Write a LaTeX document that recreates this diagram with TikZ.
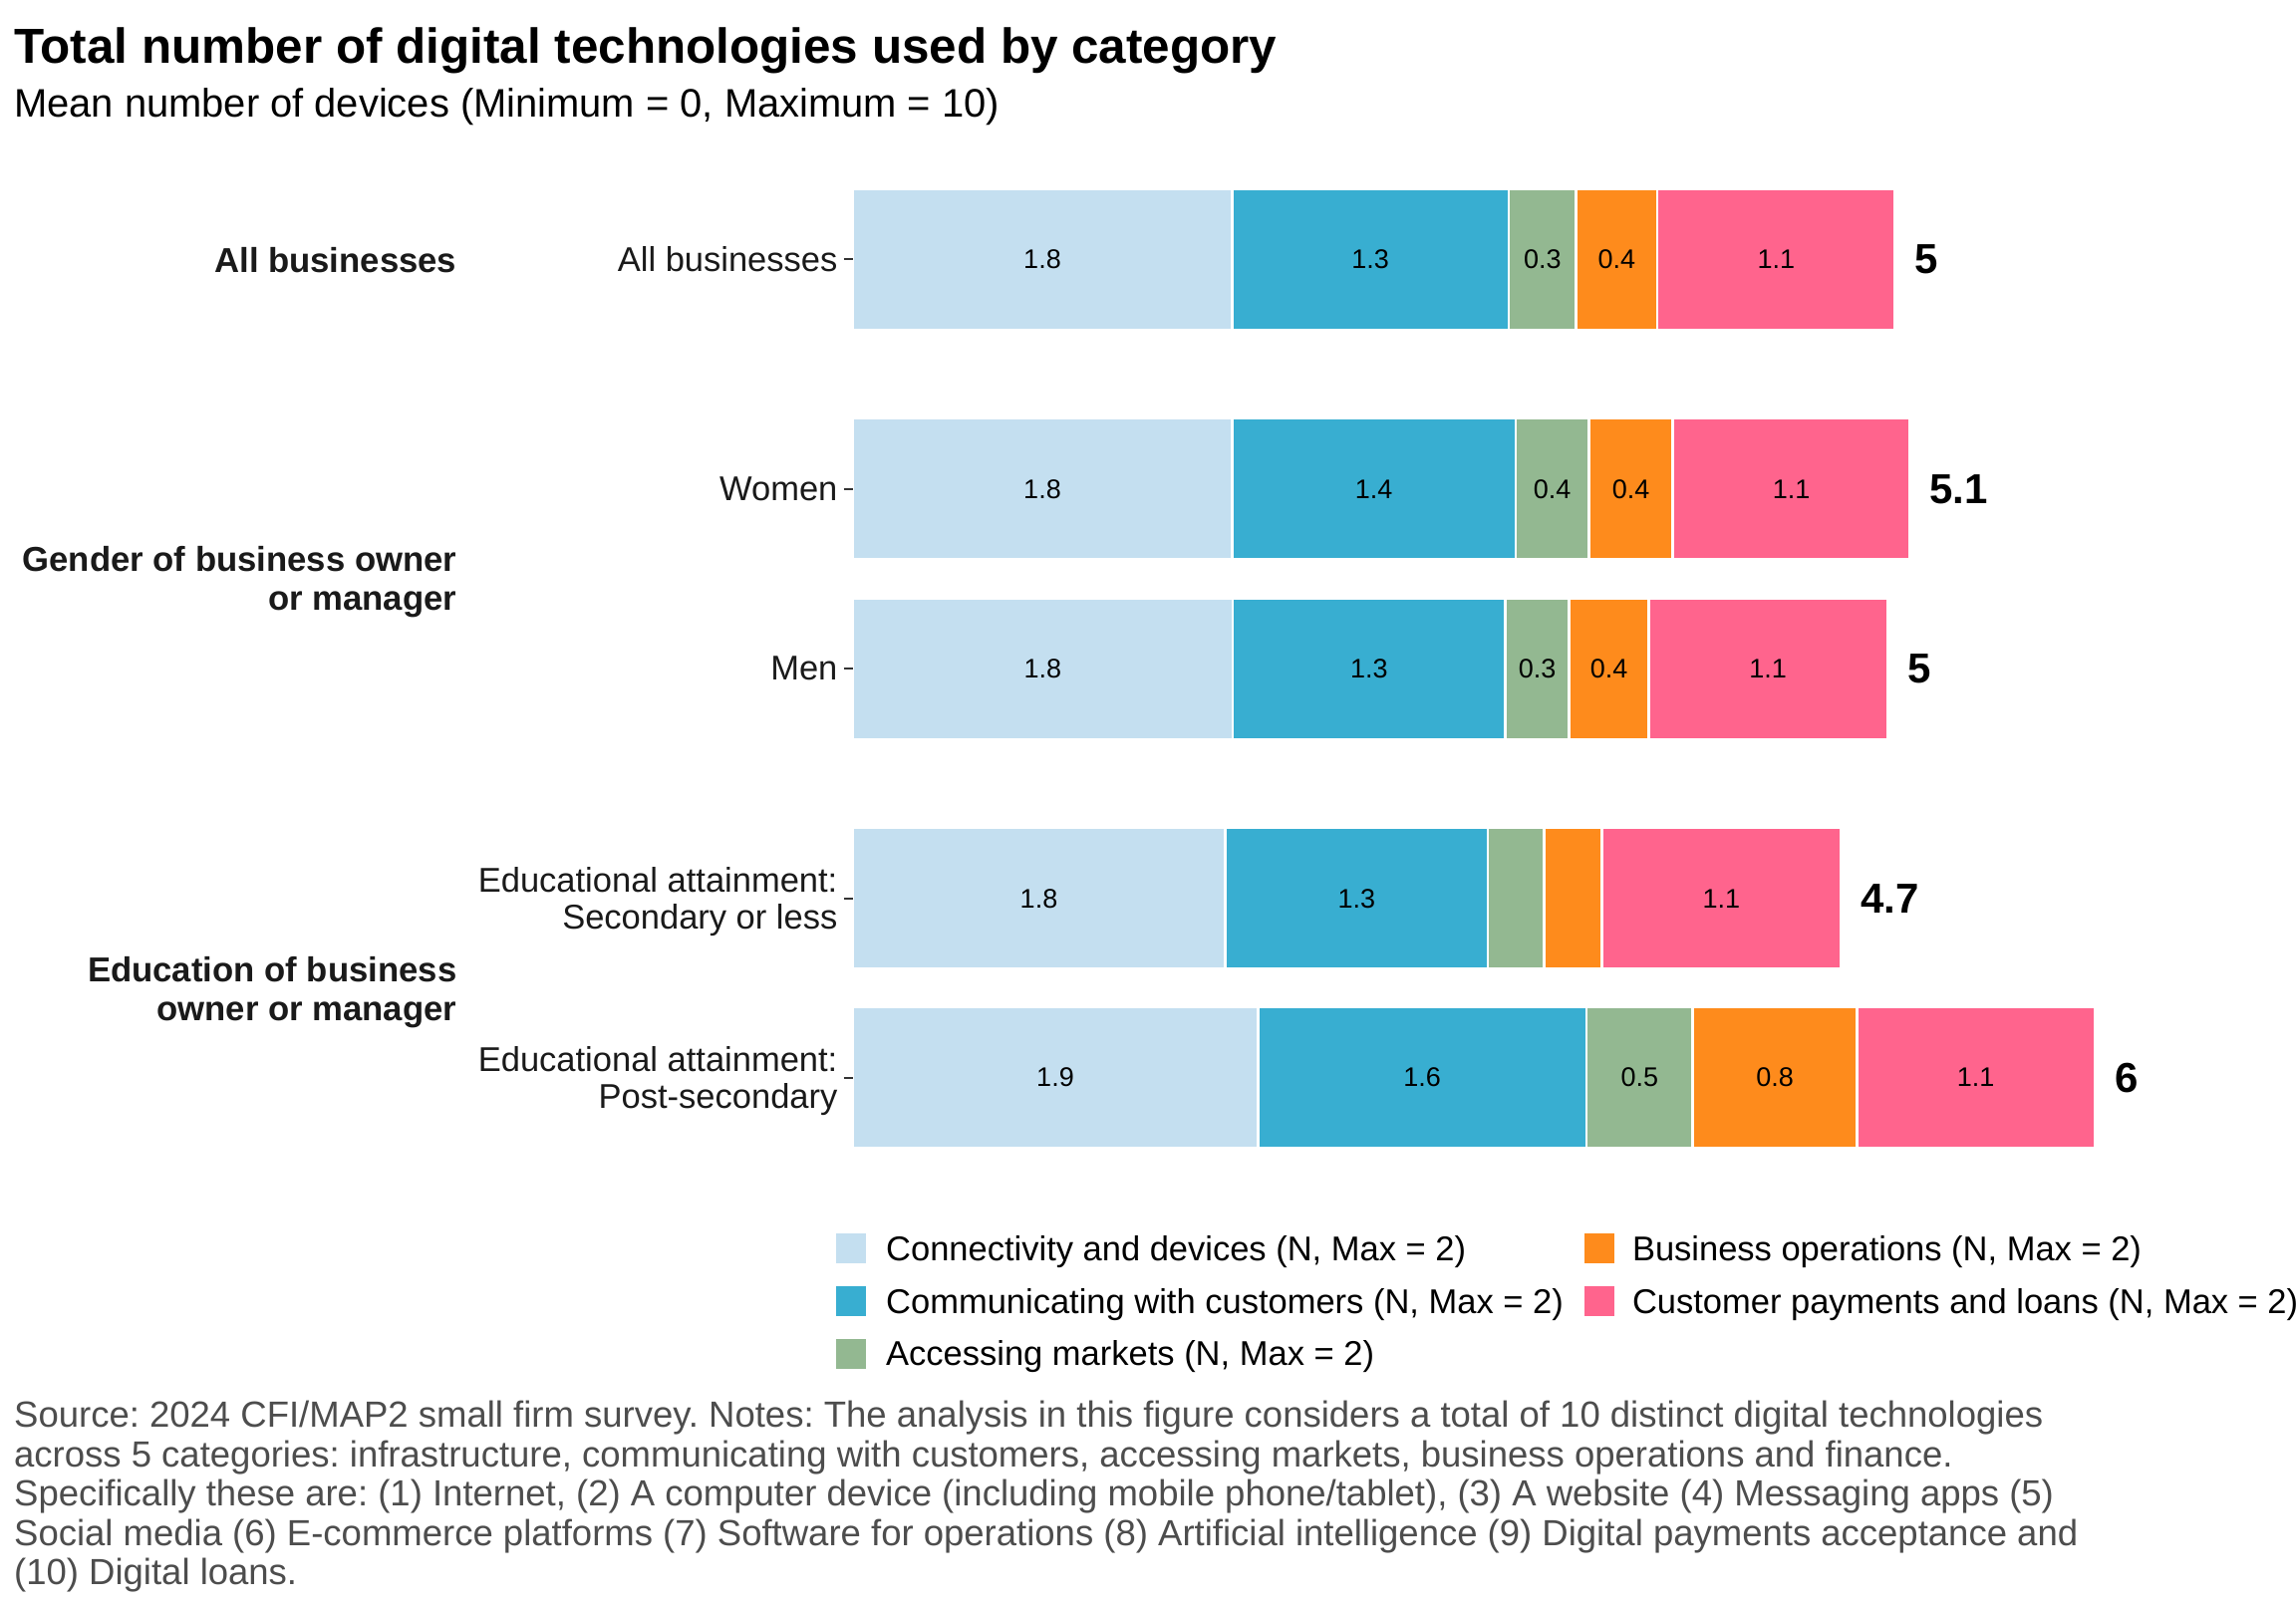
\documentclass[tikz,border=0pt]{standalone}
\usepackage{fontspec}
\setmainfont{Liberation Sans}
\usetikzlibrary{positioning}
\frenchspacing

\definecolor{cConn}{HTML}{C4DFF0}
\definecolor{cComm}{HTML}{38AED1}
\definecolor{cMkt}{HTML}{93B891}
\definecolor{cOps}{HTML}{FE8B1C}
\definecolor{cPay}{HTML}{FF648D}
\definecolor{cAxis}{HTML}{1A1A1A}
\definecolor{cNote}{HTML}{4D4D4D}

\newcommand{\fTitle}{\fontsize{49.4}{57}\selectfont\bfseries}
\newcommand{\fSub}{\fontsize{39.9}{46}\selectfont}
\newcommand{\fAxis}{\fontsize{34.5}{37.3}\selectfont}
\newcommand{\fStrip}{\fontsize{34.7}{38.3}\selectfont\bfseries}
\newcommand{\fSeg}{\fontsize{27}{32}\selectfont}
\newcommand{\fTotal}{\fontsize{42}{50}\selectfont\bfseries}
\newcommand{\fLegend}{\fontsize{34.5}{38}\selectfont}
\newcommand{\fNote}{\fontsize{36.5}{39.5}\selectfont}

\tikzstyle{seg} = [rectangle, draw=white, line width=2.5pt, minimum height=141.5pt, inner sep=0pt, outer sep=0pt, text centered, font=\fSeg]
\tikzstyle{segconn} = [seg, fill=cConn]
\tikzstyle{segcomm} = [seg, fill=cComm]
\tikzstyle{segmkt} = [seg, fill=cMkt]
\tikzstyle{segops} = [seg, fill=cOps]
\tikzstyle{segpay} = [seg, fill=cPay]
\tikzstyle{total} = [inner sep=0pt, font=\fTotal]
\tikzstyle{rowlabel} = [align=right, inner sep=0pt, font=\fAxis, text=cAxis]
\tikzstyle{strip} = [anchor=east, align=right, inner sep=0pt, font=\fStrip, text=cAxis]
\tikzstyle{axtick} = [line width=2.2pt, draw=black!80]
\tikzstyle{legbox} = [rectangle, minimum size=31pt, inner sep=0pt, draw=white, line width=1pt]
\tikzstyle{legtext} = [inner sep=0pt, font=\fLegend, yshift=-3.4pt]
\tikzstyle{note} = [anchor=base west, inner sep=0pt, font=\fNote, text=cNote]

\begin{document}
\begin{tikzpicture}[x=1pt, y=-1pt]
                \path [use as bounding box, fill=white] (0,0) rectangle (2304,1612);

                \node (title) [anchor=base west, inner sep=0pt, font=\fTitle] at (14,63) {Total number of digital technologies used by category};
                \node (subtitle) [anchor=base west, inner sep=0pt, font=\fSub] at (14,117.3) {Mean number of devices (Minimum = 0, Maximum = 10)};

                % All businesses
                \node (ab1) [segconn, anchor=west, minimum width=380.8pt] at (855.6,260.2) {1.8};
                \node (ab2) [segcomm, right=0pt of ab1, minimum width=277.5pt] {1.3};
                \node (ab3) [segmkt, right=0pt of ab2, minimum width=67.7pt] {0.3};
                \node (ab4) [segops, right=0pt of ab3, minimum width=81.5pt] {0.4};
                \node (ab5) [segpay, right=0pt of ab4, minimum width=238.5pt] {1.1};
                \node (abTot) [total, right=20pt of ab5] {5};

                % Women
                \node (wo1) [segconn, anchor=west, minimum width=380.8pt] at (855.6,490.8) {1.8};
                \node (wo2) [segcomm, right=0pt of wo1, minimum width=284.4pt] {1.4};
                \node (wo3) [segmkt, right=0pt of wo2, minimum width=73.7pt] {0.4};
                \node (wo4) [segops, right=0pt of wo3, minimum width=84.2pt] {0.4};
                \node (wo5) [segpay, right=0pt of wo4, minimum width=237.6pt] {1.1};
                \node (woTot) [total, right=20pt of wo5] {5.1};

                % Men
                \node (me1) [segconn, anchor=west, minimum width=381.6pt] at (855.6,671.1) {1.8};
                \node (me2) [segcomm, right=0pt of me1, minimum width=273.2pt] {1.3};
                \node (me3) [segmkt, right=0pt of me2, minimum width=64.2pt] {0.3};
                \node (me4) [segops, right=0pt of me3, minimum width=79.8pt] {0.4};
                \node (me5) [segpay, right=0pt of me4, minimum width=239.4pt] {1.1};
                \node (meTot) [total, right=20pt of me5] {5};

                % Secondary or less
                \node (se1) [segconn, anchor=west, minimum width=373.8pt] at (855.6,901.7) {1.8};
                \node (se2) [segcomm, right=0pt of se1, minimum width=263.7pt] {1.3};
                \node (se3) [segmkt, right=0pt of se2, minimum width=56.4pt] {};
                \node (se4) [segops, right=0pt of se3, minimum width=58.1pt] {};
                \node (se5) [segpay, right=0pt of se4, minimum width=239.3pt] {1.1};
                \node (seTot) [total, right=20pt of se5] {4.7};

                % Post-secondary
                \node (ps1) [segconn, anchor=west, minimum width=406.8pt] at (855.6,1081.6) {1.9};
                \node (ps2) [segcomm, right=0pt of ps1, minimum width=329.6pt] {1.6};
                \node (ps3) [segmkt, right=0pt of ps2, minimum width=106.6pt] {0.5};
                \node (ps4) [segops, right=0pt of ps3, minimum width=164.8pt] {0.8};
                \node (ps5) [segpay, right=0pt of ps4, minimum width=238.5pt] {1.1};
                \node (psTot) [total, right=20pt of ps5] {6};

                % row labels and ticks
                \node (rAll) [rowlabel, left=15pt of ab1] {All businesses};
                \node (rWomen) [rowlabel, left=15pt of wo1] {Women};
                \node (rMen) [rowlabel, left=15pt of me1] {Men};
                \node (rSec) [rowlabel, left=15pt of se1, yshift=-3.5pt] {Educational attainment:\\Secondary or less};
                \node (rPost) [rowlabel, left=15pt of ps1, yshift=-3.5pt] {Educational attainment:\\Post-secondary};
                \draw [axtick] ([xshift=-9pt]ab1.west) -- (ab1.west);
                \draw [axtick] ([xshift=-9pt]wo1.west) -- (wo1.west);
                \draw [axtick] ([xshift=-9pt]me1.west) -- (me1.west);
                \draw [axtick] ([xshift=-9pt]se1.west) -- (se1.west);
                \draw [axtick] ([xshift=-9pt]ps1.west) -- (ps1.west);

                % group labels
                \node (gAll) [strip] at (458.5,261) {All businesses};
                \node (gGender) [strip] at (458.5,584) {Gender of business owner\\or manager};
                \node (gEdu) [strip] at (458.5,996) {Education of business\\owner or manager};

                % legend
                \node (lg1) [legbox, fill=cConn] at (854,1253.4) {};
                \node (lg2) [legbox, fill=cComm] at (854,1306) {};
                \node (lg3) [legbox, fill=cMkt] at (854,1358.5) {};
                \node (lg4) [legbox, fill=cOps] at (1604.8,1253.4) {};
                \node (lg5) [legbox, fill=cPay] at (1604.8,1306) {};
                \node (lt1) [legtext, right=19pt of lg1] {Connectivity and devices (N, Max = 2)};
                \node (lt2) [legtext, right=19pt of lg2] {Communicating with customers (N, Max = 2)};
                \node (lt3) [legtext, right=19pt of lg3] {Accessing markets (N, Max = 2)};
                \node (lt4) [legtext, right=17pt of lg4] {Business operations (N, Max = 2)};
                \node (lt5) [legtext, right=17pt of lg5] {Customer payments and loans (N, Max = 2)};

                % source and notes
                \node (n1) [note] at (14,1432.5) {Source: 2024 CFI/MAP2 small firm survey. Notes: The analysis in this figure considers a total of 10 distinct digital technologies};
                \node (n2) [note] at (14,1472) {across 5 categories: infrastructure, communicating with customers, accessing markets, business operations and finance.};
                \node (n3) [note] at (14,1511.5) {Specifically these are: (1) Internet, (2) A computer device (including mobile phone/tablet), (3) A website (4) Messaging apps (5)};
                \node (n4) [note] at (14,1551) {Social media (6) E-commerce platforms (7) Software for operations (8) Artificial intelligence (9) Digital payments acceptance and};
                \node (n5) [note] at (14,1590.5) {(10) Digital loans.};
\end{tikzpicture}
\end{document}
